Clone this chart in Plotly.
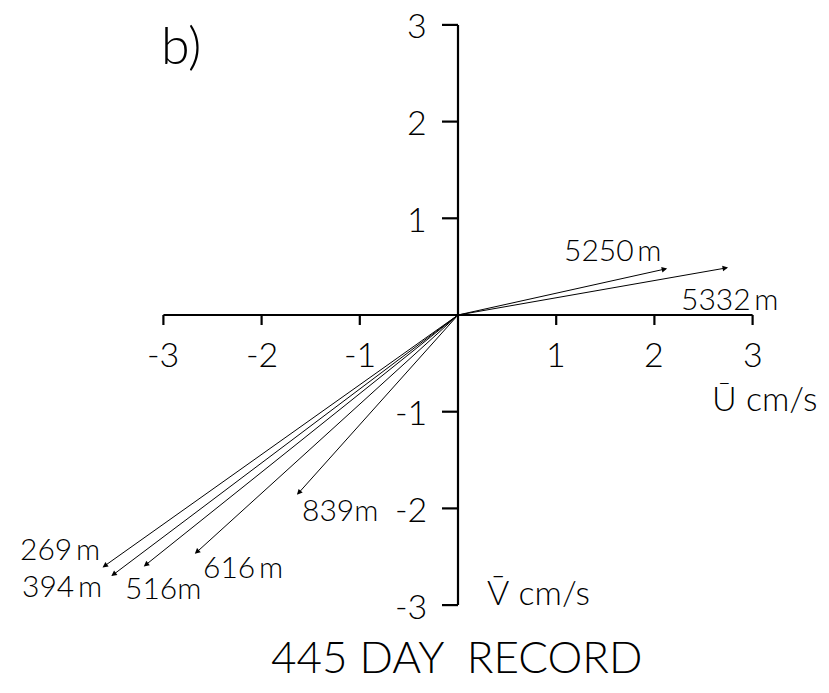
import plotly.graph_objects as go

# Mean current vectors (cm/s) at each mooring depth
depths = ["5250\u2009m", "5332\u2009m", "269\u2009m", "394\u2009m", "516m", "616\u2009m", "839m"]
u_mean = [2.13, 2.75, -3.62, -3.53, -3.20, -2.68, -1.64]
v_mean = [0.48, 0.49, -2.61, -2.70, -2.60, -2.47, -1.86]

# Axis ticks
x_ticks = [-3, -2, -1, 1, 2, 3]
y_ticks = [3, 2, 1, -1, -2, -3]
tick_labels_x = ["-3", "-2", "-1", "1", "2", "3"]
tick_labels_y = ["3", "2", "1", "-1", "-2", "-3"]

# Label placement around each arrow tip (pixels): anchor, xshift, yshift
label_place = [
    ("right", -4, 20),
    ("center", 2, -30),
    ("right", -2, 19),
    ("right", -8, -9),
    ("left", -20, -21),
    ("left", 7, -12),
    ("left", 4, -14),
]

FONT = "Lato"
INK = "black"

W, H = 829, 693
x0_px, y0_px = 458, 315      # origin position in pixels
sx, sy = 98.2, 96.7          # pixels per unit
x_range = [-x0_px / sx, (W - x0_px) / sx]
y_range = [-(H - y0_px) / sy, y0_px / sy]

fig = go.Figure()

# main axis lines
fig.add_trace(go.Scatter(x=[min(x_ticks), max(x_ticks)], y=[0, 0], mode="lines",
                         line=dict(color=INK, width=2.2), hoverinfo="skip"))
fig.add_trace(go.Scatter(x=[0, 0], y=[min(y_ticks), max(y_ticks)], mode="lines",
                         line=dict(color=INK, width=2.2), hoverinfo="skip"))

# tick marks
xt_len = 10 / sy
yt_len = 16 / sx
tx, ty = [], []
for t in x_ticks:
    tx += [t, t, None]
    ty += [0, -xt_len, None]
for t in y_ticks:
    tx += [0, -yt_len, None]
    ty += [t, t, None]
fig.add_trace(go.Scatter(x=tx, y=ty, mode="lines", line=dict(color=INK, width=2.2),
                         hoverinfo="skip"))

annotations = []
tick_font = dict(family=FONT, size=34, color=INK, weight=300)

# tick labels
for t, lab in zip(x_ticks, tick_labels_x):
    annotations.append(dict(x=t, y=0, xref="x", yref="y", text=lab, showarrow=False,
                            xanchor="center", yanchor="middle", yshift=-38,
                            font=tick_font))
for t, lab in zip(y_ticks, tick_labels_y):
    annotations.append(dict(x=0, y=t, xref="x", yref="y", text=lab, showarrow=False,
                            xanchor="right", yanchor="middle", xshift=-29,
                            font=tick_font))

# current vectors
for u, v in zip(u_mean, v_mean):
    annotations.append(dict(x=u, y=v, ax=0, ay=0, xref="x", yref="y", axref="x", ayref="y",
                            text="", showarrow=True, arrowhead=2, arrowsize=1.1,
                            arrowwidth=1, arrowcolor=INK, standoff=0, startstandoff=0))

# depth labels
for u, v, name, (anc, dx, dy) in zip(u_mean, v_mean, depths, label_place):
    annotations.append(dict(x=u, y=v, xref="x", yref="y", text=name, showarrow=False,
                            xanchor=anc, yanchor="middle", xshift=dx, yshift=dy,
                            borderpad=0,
                            font=dict(family=FONT, size=30, color=INK, weight=300)))

# axis names
annotations.append(dict(x=max(x_ticks), y=0, xref="x", yref="y", text="\u016a cm/s",
                        showarrow=False, xanchor="right", yanchor="middle",
                        xshift=66, yshift=-82, font=tick_font))
annotations.append(dict(x=0, y=min(y_ticks), xref="x", yref="y", text="V\u0304 cm/s",
                        showarrow=False, xanchor="left", yanchor="middle",
                        xshift=27, yshift=14, font=tick_font))

# panel letter and record length
annotations.append(dict(x=181 / W, y=1 - 44 / H, xref="paper", yref="paper", text="b)",
                        showarrow=False, xanchor="center", yanchor="middle",
                        font=dict(family=FONT, size=52, color=INK, weight=300)))
annotations.append(dict(x=0.551, y=0.053, xref="paper", yref="paper", text="445 DAY  RECORD",
                        showarrow=False, xanchor="center", yanchor="middle",
                        font=dict(family=FONT, size=44, color=INK, weight=300)))

fig.update_layout(
    width=W, height=H,
    margin=dict(l=0, r=0, t=0, b=0),
    paper_bgcolor="white", plot_bgcolor="white",
    showlegend=False,
    xaxis=dict(range=x_range, visible=False, fixedrange=True),
    yaxis=dict(range=y_range, visible=False, fixedrange=True),
    annotations=annotations,
)

fig.write_html("out.html")
